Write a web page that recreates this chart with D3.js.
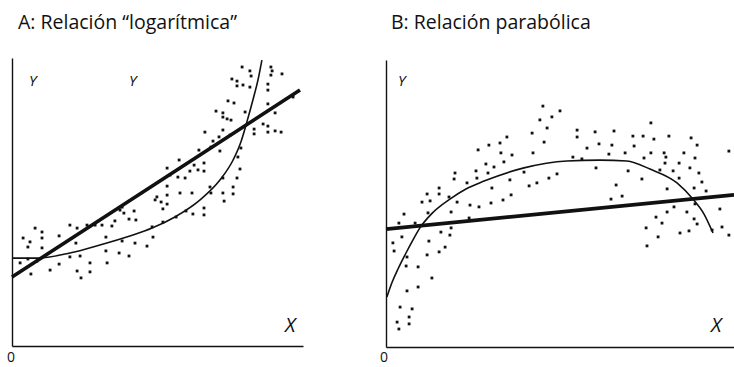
<!DOCTYPE html>
<html>
<head>
<meta charset="utf-8">
<script src="https://cdn.jsdelivr.net/npm/d3@7/dist/d3.min.js"></script>
<style>
  html, body { margin: 0; padding: 0; background: #fff; }
  svg { display: block; }
  text { font-family: "Open Sans", "Noto Sans", sans-serif; fill: #111; }
</style>
</head>
<body>
<svg id="chart" width="734" height="367"></svg>
<script>
// Panel titles and axis labels
const titles = ["A: Relación “logarítmica”", "B: Relación parabólica"];
const axisLabelX = "X";
const axisLabelY = "Y";
const originLabel = "0";

// Panel A: observations (X, Y)
const obsA = [
  [76.7,93.0],[79.3,91.7],[79.7,90.0],[86.3,93.0],[86.7,91.7],[86.3,90.3],[90.0,90.7],
  [73.3,89.0],[75.0,88.3],[75.0,86.7],[77.0,87.0],[79.3,86.3],[85.3,87.3],[85.3,85.3],
  [72.0,81.7],[74.0,81.0],[68.0,78.3],[70.3,77.7],[70.3,76.3],[71.7,75.7],[73.0,75.3],
  [77.7,78.0],[85.3,80.7],[87.7,77.7],[83.7,74.0],[85.3,73.3],[93.7,83.0],[80.7,72.3],
  [80.7,70.7],[85.3,71.3],[87.7,71.7],[89.7,71.3],[64.3,71.3],[70.3,72.0],[69.0,69.7],
  [67.0,68.3],[72.7,70.3],[66.3,66.3],[62.3,65.3],[69.3,65.0],[76.3,66.0],[75.3,63.0],
  [55.7,62.0],[64.0,61.0],[60.7,60.3],[51.7,59.3],[59.3,58.3],[62.0,58.7],[64.0,58.3],
  [76.0,59.0],[52.7,57.0],[55.3,56.3],[57.7,56.0],[70.3,56.0],[75.0,56.0],[51.7,53.3],
  [66.0,53.0],[73.7,53.0],[48.3,49.7],[47.7,48.7],[49.7,48.0],[51.7,50.3],[56.0,51.0],
  [60.0,51.0],[66.3,51.0],[70.3,51.0],[73.7,50.7],[70.7,48.3],[50.3,45.7],[51.7,47.3],
  [64.0,46.0],[58.0,45.0],[60.3,44.0],[64.0,43.7],[54.7,43.0],[36.7,46.3],[36.0,45.3],
  [40.7,45.0],[37.3,44.3],[39.0,42.3],[41.3,42.0],[34.3,41.7],[50.3,41.3],[46.7,39.7],
  [30.0,40.3],[33.3,40.0],[25.0,40.3],[27.7,40.3],[21.7,39.3],[19.3,40.3],[7.7,39.3],
  [10.0,38.0],[15.7,36.7],[3.7,36.0],[10.0,36.0],[31.3,36.3],[47.0,36.3],[6.0,34.7],
  [5.3,33.0],[10.0,32.7],[21.3,34.3],[36.7,35.0],[41.0,34.3],[45.0,33.3],[31.3,31.7],
  [35.7,31.0],[39.0,30.0],[2.7,27.7],[5.3,29.0],[8.3,28.3],[19.3,29.7],[22.7,30.0],
  [26.0,27.7],[31.7,27.7],[15.7,27.3],[6.3,24.0],[12.7,25.3],[21.7,25.0],[26.0,24.7],
  [23.0,22.7]
];
// Panel A: straight-line fit (endpoints) and curved fit (points along the curve)
const lineFitA = [[0, 23.0], [96, 85.3]];
const curveFitA = [
  [0,29.3],[8.7,29.3],[19.3,31.0],[29.3,33.7],[39.3,36.7],[46.7,39.3],[54.3,43.0],
  [62.7,48.7],[69.3,55.3],[73.7,62.0],[76.3,68.0],[78.3,74.7],[80.3,82.0],[82.0,88.7],[83.3,95.3]
];

// Panel B: observations (X, Y)
const obsB = [
  [52.3,80.3],[58.0,78.7],[55.3,76.7],[51.3,75.7],[53.7,73.0],[48.7,71.3],[52.7,68.3],
  [40.3,70.0],[38.0,68.0],[34.3,67.3],[30.7,65.7],[38.3,64.7],[42.0,64.0],[49.0,64.7],
  [39.3,61.7],[33.3,61.0],[36.0,60.0],[46.0,58.3],[34.0,58.0],[30.0,58.7],[23.0,58.0],
  [22.7,56.0],[30.3,56.3],[27.0,54.7],[41.3,55.7],[57.0,57.7],[54.3,56.3],[50.3,54.7],
  [47.7,53.7],[35.3,53.0],[17.7,53.0],[17.7,51.0],[13.7,51.0],[12.0,48.3],[14.7,48.7],
  [21.0,50.0],[23.7,48.3],[28.0,47.3],[31.0,46.7],[35.0,48.0],[39.0,49.0],[41.7,50.7],
  [14.0,44.7],[21.7,45.0],[6.0,44.3],[4.3,41.3],[9.7,41.3],[27.7,43.0],[5.3,36.7],
  [18.3,38.3],[21.3,37.3],[21.7,39.7],[63.7,72.3],[63.7,70.0],[69.7,71.7],[76.0,72.0],
  [82.3,70.3],[85.7,70.3],[88.3,74.7],[89.3,69.3],[94.3,70.3],[101.7,69.7],[103.7,67.3],
  [114.3,65.3],[67.0,66.3],[71.0,67.7],[75.3,67.3],[82.7,67.0],[79.7,64.7],[74.3,64.3],
  [88.3,64.7],[86.0,63.0],[92.7,64.7],[93.3,63.3],[99.3,64.7],[103.0,63.0],[97.7,61.3],
  [93.0,61.3],[101.3,59.7],[91.3,59.0],[95.7,58.7],[62.3,63.3],[65.3,62.7],[70.0,59.7],
  [80.7,58.7],[85.3,56.0],[97.7,56.3],[104.3,58.0],[105.3,55.0],[102.7,53.0],[106.7,52.0],
  [93.7,52.7],[76.7,54.0],[78.7,50.3],[75.0,49.3],[111.3,46.0],[103.0,47.7],[100.3,45.0],
  [96.0,46.7],[93.7,45.0],[90.0,43.3],[102.7,42.7],[92.0,41.3],[103.7,41.0],[112.0,40.0],
  [86.7,39.7],[98.0,38.0],[101.0,38.7],[90.7,36.7],[114.3,37.3],[87.0,33.7],[108.7,39.0],
  [2.3,34.7],[2.7,32.0],[7.0,30.0],[6.7,27.0],[10.7,26.7],[14.3,35.3],[19.7,33.3],
  [17.7,31.7],[13.7,30.7],[15.3,23.0],[10.7,20.0],[7.0,18.7],[4.7,13.3],[8.7,12.7],
  [7.7,10.0],[3.7,8.3],[7.7,7.7],[4.3,6.0]
];
// Panel B: straight-line fit (endpoints) and parabolic fit (points along the curve)
const lineFitB = [[0, 39.3], [116, 50.7]];
const curveFitB = [
  [0.3,16.7],[2.0,21.5],[4.0,26.0],[6.5,31.0],[9.0,35.7],[11.3,39.7],[15.5,44.7],
  [21.3,49.3],[26.5,52.6],[32.7,55.3],[46.0,59.7],[60.3,62.0],[71.3,62.3],[80.3,62.0],
  [88.0,59.3],[97.0,54.7],[102.3,49.3],[106.0,44.3],[109.0,38.0]
];

const svg = d3.select("#chart");

const panels = [
  { title: titles[0], titleX: 18, obs: obsA, line: lineFitA, curve: curveFitA,
    left: 12, right: 303, top: 58, bottom: 346, xMax: 97,
    yLabels: [29, 129], xLabelX: 285, zeroX: 7 },
  { title: titles[1], titleX: 391, obs: obsB, line: lineFitB, curve: curveFitB,
    left: 386, right: 734, top: 60, bottom: 347, xMax: 116,
    yLabels: [398], xLabelX: 711, zeroX: 380 }
];

panels.forEach(p => {
  const g = svg.append("g");
  const x = d3.scaleLinear().domain([0, p.xMax]).range([p.left, p.right]);
  const y = d3.scaleLinear().domain([0, (p.bottom - p.top) / 3]).range([p.bottom, p.top]);

  // title
  g.append("text")
    .attr("x", p.titleX).attr("y", 29)
    .style("font-size", "19.5px")
    .text(p.title);

  // axes (plain L-shaped frame, no ticks)
  const yAxis = d3.axisLeft(y).tickValues([]).tickSizeOuter(0);
  const xAxis = d3.axisBottom(x).tickValues([]).tickSizeOuter(0);
  g.append("g").attr("transform", `translate(${p.left},0)`).call(yAxis)
    .select(".domain").attr("stroke", "#111").attr("stroke-width", 1.4);
  g.append("g").attr("transform", `translate(0,${p.bottom})`).call(xAxis)
    .select(".domain").attr("stroke", "#111").attr("stroke-width", 1.4);

  // axis letters
  p.yLabels.forEach(lx => {
    g.append("text").attr("x", lx).attr("y", 86)
      .style("font-size", "15px").style("font-style", "italic").text(axisLabelY);
  });
  g.append("text").attr("x", p.xLabelX).attr("y", 332)
    .style("font-size", "20px").style("font-style", "italic").text(axisLabelX);
  g.append("text").attr("x", p.zeroX).attr("y", 362)
    .style("font-size", "14px").text(originLabel);

  // observations
  const s = 2.8;
  g.append("g").selectAll("rect").data(p.obs).join("rect")
    .attr("x", d => x(d[0]) - s / 2).attr("y", d => y(d[1]) - s / 2)
    .attr("width", s).attr("height", s).attr("fill", "#111");

  // curved fit
  g.append("path").datum(p.curve)
    .attr("fill", "none").attr("stroke", "#111").attr("stroke-width", 1.6)
    .attr("d", d3.line().x(d => x(d[0])).y(d => y(d[1])).curve(d3.curveMonotoneX));

  // straight-line fit
  g.append("path").datum(p.line)
    .attr("fill", "none").attr("stroke", "#111").attr("stroke-width", 3.6)
    .attr("d", d3.line().x(d => x(d[0])).y(d => y(d[1])));
});
</script>
</body>
</html>
